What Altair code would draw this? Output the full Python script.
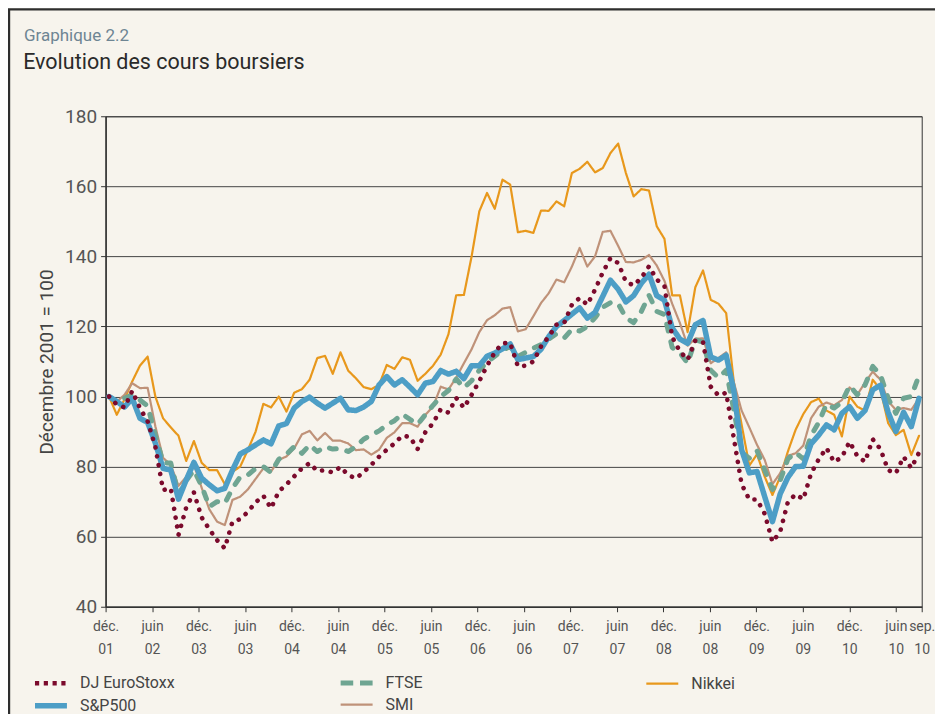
import altair as alt
import pandas as pd

# Month index 0 = déc. 2001 ... 105 = sep. 2010 (base déc. 2001 = 100)
DJ_EUROSTOXX = [100, 97.7, 96.9, 101.6, 96.7, 92.9, 85.7, 73.3, 73.8, 60.5,
                68.3, 72.6, 65.5, 62.1, 59, 56.7, 64.3, 65, 67.1, 69.8,
                71.7, 68.1, 72.9, 74.9, 77.2, 79.5, 81, 78.7, 79, 78.3,
                79.9, 77.6, 76.6, 78.4, 80.5, 82.8, 84.8, 86.6, 88.8, 88.5,
                85, 89.8, 92.4, 96.4, 95.4, 99.6, 96.8, 100.5, 104.4, 108.8,
                112.6, 115.2, 115.3, 108.6, 108.8, 110, 114.3, 117.1, 120.5, 121,
                126.2, 128.1, 126.2, 130.5, 135.4, 139.5, 138.1, 132.8, 131.7, 133.9,
                137.2, 133.4, 131.5, 117, 112.9, 110.5, 116, 115.6, 102.8, 100.3,
                101.1, 88, 75, 70.6, 70.6, 66.5, 58.5, 61.4, 69.9, 72.1,
                70.7, 78, 82.1, 85.3, 81.3, 82.7, 87.1, 83, 81.4, 87.8,
                85, 79, 78.1, 82.8, 79.6, 84]

SP500 = [100, 98.6, 97, 99.5, 93.8, 92.6, 86.7, 79.5, 79, 70.7,
         76.2, 81.2, 76.7, 74.8, 73.1, 73.8, 79, 83.6, 84.8, 86.2,
         87.6, 86.5, 91.6, 92.3, 96.7, 98.6, 99.8, 98.1, 96.7, 98.1,
         99.5, 96.2, 96, 97, 98.6, 103.3, 105.7, 103.3, 104.8, 102.7,
         100.5, 103.8, 104.3, 107.4, 106.4, 107.2, 105.1, 108.8, 108.8, 111.5,
         112.4, 113.6, 115, 110.5, 111, 111.4, 113.5, 117.1, 120, 121.7,
         123.5, 125.3, 122.4, 124, 128.6, 133.2, 130.6, 127, 128.8, 132.3,
         134.9, 128.8, 127.5, 119.6, 116.4, 115.2, 120.5, 121.7, 111.3, 110.4,
         111.8, 101.5, 84.8, 78.2, 78.6, 71.4, 64.3, 72.2, 76.9, 80,
         80.1, 86.5, 89, 91.9, 90.5, 95.2, 97.1, 93.8, 96, 101.9,
         103.2, 95.5, 90, 95.5, 91.4, 99.5]

FTSE = [100, 98.5, 99.5, 100.5, 99, 97.3, 89, 81.1, 81, 72,
        76, 79, 74.5, 68.6, 70, 69.5, 73.8, 77.1, 77.6, 79.5,
        80, 78.3, 82.1, 83.5, 85.7, 83.8, 86.2, 84.3, 85.7, 85,
        85.2, 84.3, 85.7, 87.8, 89, 90.2, 91.9, 93.1, 95, 93.5,
        92.1, 94.8, 97.5, 100, 101.7, 105, 102.5, 104.5, 107.5, 109.8,
        111.5, 113.2, 114.3, 111.4, 112.6, 113.8, 114.8, 116.4, 117.9, 116.7,
        119.2, 118.7, 120, 122.5, 125.5, 126.8, 126.5, 122.5, 121.1, 124.3,
        128.9, 124.3, 123.4, 114, 112.5, 109.5, 116.2, 115.5, 107.5, 105.4,
        107.5, 96, 84, 82.4, 84.5, 79, 73.5, 76, 82.2, 84,
        82.2, 88.8, 92.6, 97.8, 96.7, 98.4, 103.1, 100.5, 103.3, 108.6,
        106.2, 99.5, 95.2, 99.5, 100, 106]

SMI = [100, 98.5, 100.5, 103.8, 102.4, 102.5, 91.5, 82.5, 80.5, 74.5,
       77, 80.5, 74, 67.8, 64.3, 63.3, 70.5, 71.4, 73.5, 76.5,
       79.5, 78.6, 81.9, 82.9, 85.2, 89.2, 90.2, 87.5, 89.6, 87.4,
       87.4, 86.6, 84.7, 84.9, 83.4, 84.8, 88.2, 89.8, 92.4, 92.4,
       91.4, 94.8, 97.1, 102.8, 102, 105.4, 109.5, 113.5, 118.4, 121.8,
       123.2, 125.1, 125.5, 118.6, 119.2, 122.9, 126.7, 129.5, 133.4, 132.6,
       137.1, 142.4, 137.1, 140, 147, 147.3, 143, 138.4, 138.3, 139,
       140.4, 137.4, 133, 126.5, 121, 114.5, 116.5, 116.6, 109.5, 111,
       112.6, 104, 96, 91.2, 86.2, 81.9, 75, 78.1, 83.1, 83.8,
       86, 93.8, 97.1, 98.3, 97.5, 99, 102.6, 100.5, 104, 107.1,
       104.8, 98.6, 96.2, 96.7, 96.2, 99.5]

NIKKEI = [100, 94.8, 99.2, 104.3, 108.8, 111.4, 100, 93.8, 91.2, 88.8,
          81.6, 87.3, 81.1, 79, 79, 75, 78.5, 80, 84.8, 90,
          97.9, 96.9, 100, 95.7, 101.1, 102.1, 104.8, 111, 111.6, 106.5,
          112.6, 107.4, 105.2, 102.7, 102.1, 103.3, 109, 107.9, 111.2, 110.5,
          104.5, 106.5, 108.8, 112, 117.8, 128.9, 129, 140, 152.9, 158.1,
          153.6, 161.9, 160.5, 146.9, 147.3, 146.7, 153.1, 153, 155.7, 154.3,
          163.8, 165, 167, 164, 165.2, 169.5, 172.2, 163.8, 157.1, 159.2,
          158.8, 148.6, 145, 128.9, 128.9, 118.4, 131.2, 136, 127.6, 126.5,
          123.8, 104, 92, 80.3, 83.5, 77.1, 71.9, 77.1, 84.3, 90.5,
          95, 98.4, 99.4, 96, 94.8, 88.6, 100, 97.1, 96, 104.8,
          102, 92.4, 89, 90.5, 83.3, 88.8]

SERIES = ["DJ EuroStoxx", "FTSE", "Nikkei", "S&P500", "SMI"]
VALUES = [DJ_EUROSTOXX, FTSE, NIKKEI, SP500, SMI]
COLORS = ["#7B0A2C", "#6FA592", "#E8981C", "#4D9EC6", "#BF9279"]
LINE_DASHES = [[0.1, 8.9], [7, 11], [1, 0], [1, 0], [1, 0]]
LEGEND_DASHES = [[4.2, 4.6], [12.6, 6.8], [1, 0], [1, 0], [1, 0]]
WIDTHS = [4.6, 5, 2.2, 5.5, 2.2]
DRAW_ORDER = ["Nikkei", "SMI", "FTSE", "S&P500", "DJ EuroStoxx"]

TICK_LABELS = ["déc.|01", "juin|02", "déc.|03", "juin|03", "déc.|04", "juin|04",
               "déc.|05", "juin|05", "déc.|06", "juin|06", "déc.|07", "juin|07",
               "déc.|08", "juin|08", "déc.|09", "juin|09", "déc.|10", "juin|10",
               "sep.|10"]

FONT = "Roboto"
BG = "#F7F4ED"

rows = []
for name, vals in zip(SERIES, VALUES):
    for i, v in enumerate(vals):
        rows.append({"m": i, "v": v, "s": name})
df = pd.DataFrame(rows)

STEP = 6.026
tick_vals = [round(-0.45 + STEP * k, 3) for k in range(18)] + [105.35]
labels_js = "[" + ",".join("'" + t + "'" for t in TICK_LABELS) + "]"
label_expr = ("split(" + labels_js +
              "[datum.value > 104 ? 18 : round((datum.value + 0.45) / " + str(STEP) + ")], '|')")

# Legend symbol: a 32px horizontal stroke drawn from a small nominal symbol size,
# so that the legend rows stay close together.
leg = alt.Legend(title=None, orient="none", legendX=-63.7, legendY=558,
                 direction="horizontal", columns=3, gridAlign="all",
                 columnPadding=155, rowPadding=1,
                 symbolType="M-2.667,0L2.667,0", symbolSize=144,
                 labelFont=FONT, labelFontSize=16,
                 labelColor="#444", labelOffset=20, padding=0)

x_enc = alt.X("m:Q",
              scale=alt.Scale(domain=[-0.45, 105.35], nice=False, zero=False),
              axis=alt.Axis(values=tick_vals, labelExpr=label_expr, title=None,
                            grid=False, labelFont=FONT, labelFontSize=14,
                            labelColor="#555", labelLineHeight=23,
                            labelPadding=8, labelOverlap=False, labelFlush=False,
                            labelBound=False, tickSize=5, tickColor="#333",
                            domainColor="#333", domainWidth=1.5))
y_enc = alt.Y("v:Q",
              scale=alt.Scale(domain=[40, 180], nice=False, zero=False),
              axis=alt.Axis(values=list(range(40, 181, 20)), title="Décembre 2001 = 100",
                            titleFont=FONT, titleFontSize=19, titleFontWeight="normal",
                            titleColor="#444", titlePadding=8,
                            labelFont=FONT, labelFontSize=19, labelColor="#555",
                            labelPadding=4, tickSize=5, tickColor="#333",
                            domainColor="#333", domainWidth=1.5,
                            grid=True, gridColor="#444", gridWidth=1))
color_scale = alt.Scale(domain=SERIES, range=COLORS)

# Legend carrier: draws nothing, only supplies dash and width scales to the legend.
legend_layer = alt.Chart(df).transform_filter("false").mark_line().encode(
    x=x_enc, y=y_enc,
    color=alt.Color("s:N", scale=color_scale, legend=leg),
    strokeDash=alt.StrokeDash("s:N", scale=alt.Scale(domain=SERIES, range=LEGEND_DASHES), legend=leg),
    strokeWidth=alt.StrokeWidth("s:N", scale=alt.Scale(type="ordinal", domain=SERIES, range=WIDTHS),
                                legend=leg),
)

lines = []
for name in DRAW_ORDER:
    k = SERIES.index(name)
    lines.append(
        alt.Chart(df).transform_filter(alt.datum.s == name).mark_line(
            strokeDash=LINE_DASHES[k], strokeWidth=WIDTHS[k],
            strokeCap="round", strokeJoin="round").encode(
            x=x_enc, y=y_enc,
            color=alt.Color("s:N", scale=color_scale, legend=leg))
    )

one = pd.DataFrame({"k": [0]})
frame = alt.Chart(one).mark_rect(fillOpacity=0, stroke="#2E2E2E", strokeWidth=2.2).encode(
    x=alt.value(-96.6), x2=alt.value(850), y=alt.value(-107), y2=alt.value(640))

t1 = alt.Chart(pd.DataFrame({"t": ["Graphique 2.2"]})).mark_text(
    align="left", baseline="alphabetic", font=FONT, fontSize=17, color="#6E8593").encode(
    text="t:N", x=alt.value(-81.7), y=alt.value(-75.3))
t2 = alt.Chart(pd.DataFrame({"t": ["Evolution des cours boursiers"]})).mark_text(
    align="left", baseline="alphabetic", font=FONT, fontSize=21.5, color="#2A2A2A").encode(
    text="t:N", x=alt.value(-82.5), y=alt.value(-47.3))

chart = alt.layer(frame, legend_layer, *lines, t1, t2).properties(
    width=817, height=491,
    padding={"left": 97.7, "top": 108, "right": 13.3, "bottom": 107},
    autosize=alt.AutoSizeParams(type="none"),
    background=BG,
).configure_view(stroke="#333", strokeWidth=1)

chart.save("out.html", embed_options={"renderer": "svg", "actions": False})
